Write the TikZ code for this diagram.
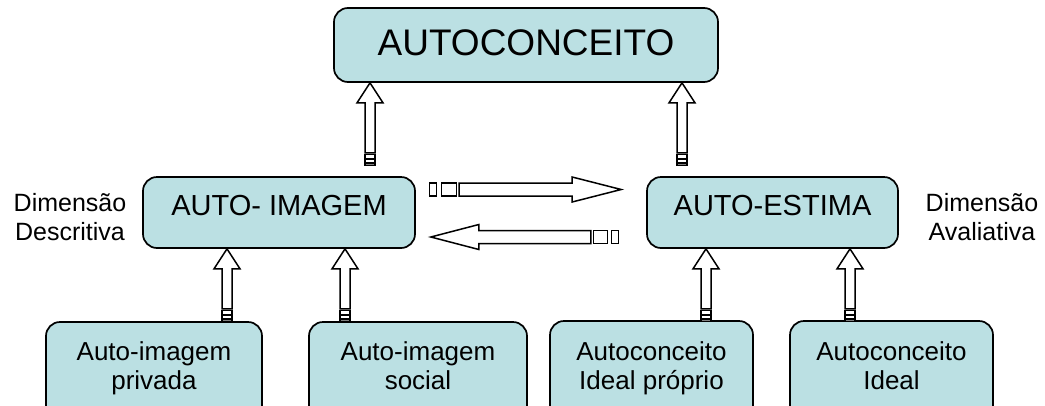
\documentclass[tikz,border=0pt]{standalone}
\usepackage{fontspec}
\setmainfont{Liberation Sans}
\usetikzlibrary{calc}
\definecolor{boxfill}{HTML}{BBE0E3}
\tikzset{
  box/.style={draw=black, line width=1.7pt, rounded corners=14pt, fill=boxfill, inner sep=0pt},
  arrline/.style={draw=black, line width=1.5pt, fill=white, line join=miter},
  stripe/.style={draw=black, line width=1.1pt, fill=white},
  bigtxt/.style={font=\fontsize{37}{44}\selectfont, anchor=base},
  midtxt/.style={font=\fontsize{29}{34}\selectfont, anchor=base},
  smalltxt/.style={font=\fontsize{26}{29}\selectfont, anchor=base, align=center},
  sidetxt/.style={font=\fontsize{25}{28.5}\selectfont, anchor=base, align=center},
  uparr/.pic={
    \path[arrline] (0,0) -- (13,20) -- (5,20) -- (5,#1) -- (-5,#1) -- (-5,20) -- (-13,20) -- cycle;
    \path[stripe] (-5,#1+2) rectangle (5,#1+5.5);
    \path[stripe] (-5,#1+6.5) rectangle (5,#1+10);
    \path[stripe, fill=gray] (-5,#1+10.8) rectangle (5,#1+13);
  }
}
\begin{document}
\begin{tikzpicture}[x=1pt,y=-1pt]
\clip (0,0) rectangle (1045,405);
\fill[white] (0,0) rectangle (1045,405);

% boxes
\node[box, minimum width=384, minimum height=74] (top) at (526,45) {};
\node[bigtxt] at (526,55) {AUTOCONCEITO};

\node[box, minimum width=272, minimum height=71] (midL) at (279,212.5) {};
\node[midtxt] at (279,215) {AUTO- IMAGEM};

\node[box, minimum width=251, minimum height=71] (midR) at (772.5,212.5) {};
\node[midtxt] at (772.5,215) {AUTO-ESTIMA};

\node[box, minimum width=216, minimum height=104] (b1) at (154,374) {};
\node[smalltxt] at (154,389) {Auto-imagem\\privada};
\node[box, minimum width=218, minimum height=104] (b2) at (418,374) {};
\node[smalltxt] at (418,389) {Auto-imagem\\social};
\node[box, minimum width=203, minimum height=104] (b3) at (651.5,373) {};
\node[smalltxt] at (651.5,389) {Autoconceito\\Ideal próprio};
\node[box, minimum width=203, minimum height=104] (b4) at (891.5,373) {};
\node[smalltxt] at (891.5,389) {Autoconceito\\Ideal};

% side labels
\node[sidetxt] (dd) at (70,240) {Dimensão\\Descritiva};
\node[sidetxt] (da) at (982,240) {Dimensão\\Avaliativa};

% vertical block arrows
\pic at (370,0 |- top.south) {uparr=70};
\pic at (682,0 |- top.south) {uparr=70};
\pic at (227,0 |- midL.south) {uparr=60};
\pic at (345,0 |- midL.south) {uparr=60};
\pic at (706,0 |- midR.south) {uparr=60};
\pic at (850,0 |- midR.south) {uparr=60};

% horizontal block arrows
\coordinate (ra) at ($(midR.west)+(-25,-23)$);
\path[arrline] (ra) -- ++(-49,-12.5) -- ++(0,6) -- ++(-113,0) -- ++(0,13) -- ++(113,0) -- ++(0,6) -- cycle;
\path[stripe] ($(ra)+(-180,-6.5)$) rectangle ++(15,13);
\path[stripe] ($(ra)+(-192,-6.5)$) rectangle ++(7,13);

\coordinate (la) at ($(midL.east)+(15,24.5)$);
\path[arrline] (la) -- ++(48,-12.5) -- ++(0,6) -- ++(112,0) -- ++(0,13) -- ++(-112,0) -- ++(0,6) -- cycle;
\path[stripe] ($(la)+(163,-6.5)$) rectangle ++(14,13);
\path[stripe] ($(la)+(181,-6.5)$) rectangle ++(7,13);
\end{tikzpicture}
\end{document}
